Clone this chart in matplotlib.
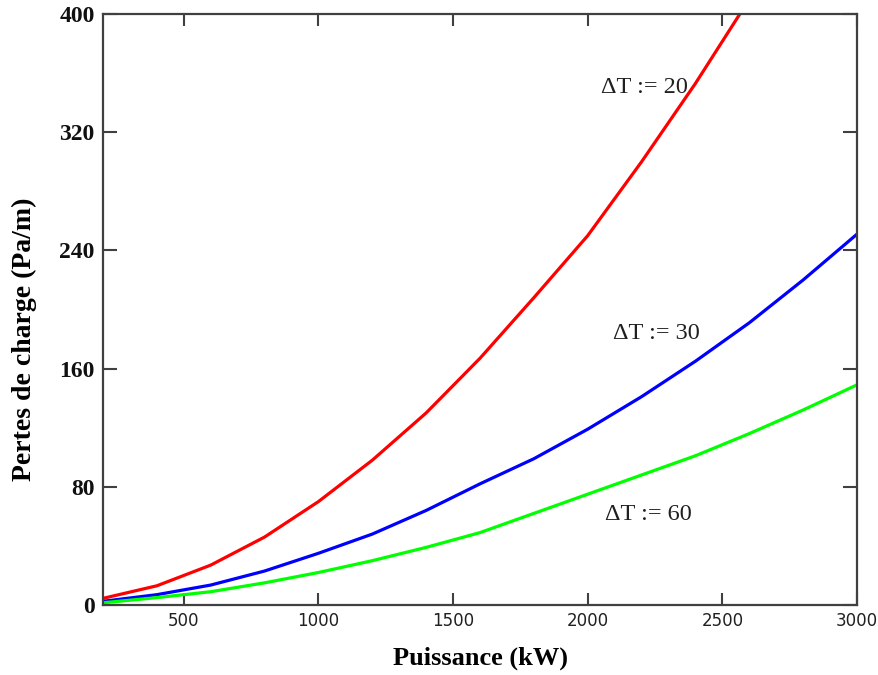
import numpy as np
import matplotlib.pyplot as plt

# values (kW -> Pa/m)
puissance = [200, 400, 600, 800, 1000, 1200, 1400, 1600, 1800, 2000, 2200, 2400, 2600, 2800, 3000]
dt20 = [4.5, 13, 27, 46, 70, 98, 130, 167, 208, 250, 300, 353, 410, 468, 530]
dt30 = [2.5, 7, 13.5, 23, 35, 48, 64, 82, 99, 119, 141, 165, 191, 220, 251]
dt60 = [1.5, 5, 9, 15, 22, 30, 39, 49, 62, 75, 88, 101, 116, 132, 149]

labels = ['\u0394T := 20', '\u0394T := 30', '\u0394T := 60']
label_pos = [(2372, 350), (2417, 184), (2387, 61)]

x_ticks = [500, 1000, 1500, 2000, 2500, 3000]
y_ticks = [0, 80, 160, 240, 320, 400]

fig = plt.figure(figsize=(8.79, 6.75), dpi=100)
ax = fig.add_axes([0.1172, 0.1037, 0.8578, 0.8756])

ax.plot(puissance, dt20, color='#ff0000', linewidth=2.3)
ax.plot(puissance, dt30, color='#0000ff', linewidth=2.3)
ax.plot(puissance, dt60, color='#00ff00', linewidth=2.3)

for txt, (lx, ly) in zip(labels, label_pos):
    ax.text(lx, ly, txt, ha='right', va='center', fontsize=17.5,
            family='Liberation Serif', color='#202020')

ax.set_xlim(200, 3000)
ax.set_ylim(0, 400)
ax.set_xticks(x_ticks)
ax.set_yticks(y_ticks)
ax.set_xticklabels([str(v) for v in x_ticks], fontsize=12, family='DejaVu Sans', color='#202020')
ax.set_yticklabels([str(v) for v in y_ticks], fontsize=17, family='Liberation Serif',
                   fontweight='bold', color='#101010')

ax.tick_params(axis='both', direction='in', top=True, right=True, color='#404040', width=1.5)
ax.tick_params(axis='y', length=10, pad=6)
ax.tick_params(axis='x', length=8.5, pad=5)

for sp in ax.spines.values():
    sp.set_color('#404040')
    sp.set_linewidth(1.6)

ax.set_xlabel('Puissance (kW)', fontsize=19, family='Liberation Serif', fontweight='bold', labelpad=12)
ax.set_ylabel('Pertes de charge (Pa/m)', fontsize=20, family='Liberation Serif', fontweight='bold')
ax.yaxis.set_label_coords(-0.088, 0.45)

fig.savefig('out.png', dpi=100)
